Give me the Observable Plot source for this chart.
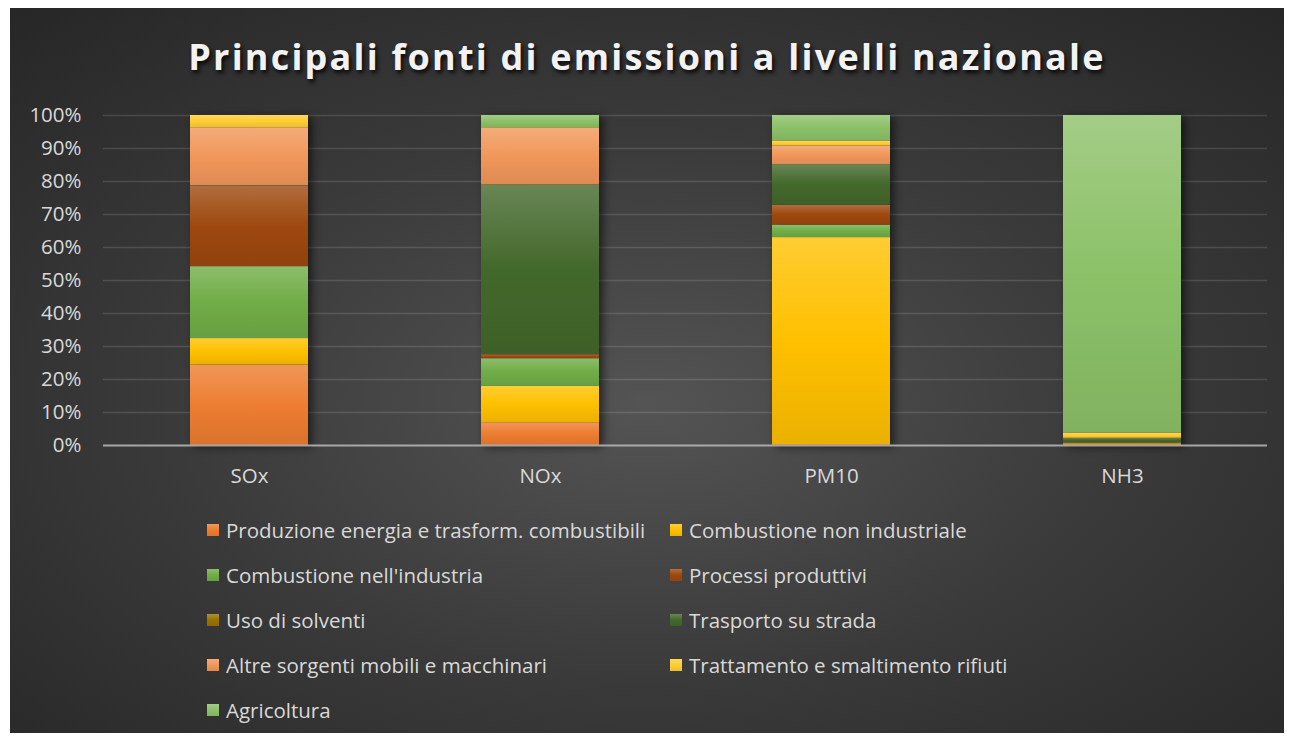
<!DOCTYPE html>
<html><head><meta charset="utf-8">
<script src="https://cdn.jsdelivr.net/npm/d3@7"></script>
<script src="https://cdn.jsdelivr.net/npm/@observablehq/plot@0.6"></script>
<style>
body{margin:0;background:#fff;}
#card{position:absolute;left:10px;top:8px;width:1274px;height:725px;background:radial-gradient(ellipse 75% 75% at 50% 55%, #545454 0%, #3a3a3a 50%, #262626 100%);font-family:"Open Sans",sans-serif;overflow:hidden;}
#title{position:absolute;left:0;width:100%;top:26px;text-align:center;color:#f2f2f2;font-weight:bold;font-size:36px;letter-spacing:2.2px;text-shadow:2px 3px 4px rgba(0,0,0,0.85);line-height:46px;}
#chart{position:absolute;left:0;top:90px;}
.leg{position:absolute;color:#d9d9d9;font-size:20.5px;height:26px;line-height:26px;display:flex;align-items:center;white-space:nowrap;}
.sw{width:12px;height:12px;margin-right:7px;flex:none;}
</style></head><body>
<div id="card"><div id="title">Principali fonti di emissioni a livelli nazionale</div><div id="chart"></div><div id="legend"></div></div>
<script>
const categories = ["SOx", "NOx", "PM10", "NH3"];
const sources = [
  "Produzione energia e trasform. combustibili",
  "Combustione non industriale",
  "Combustione nell'industria",
  "Processi produttivi",
  "Uso di solventi",
  "Trasporto su strada",
  "Altre sorgenti mobili e macchinari",
  "Trattamento e smaltimento rifiuti",
  "Agricoltura"
];
const colors = ["#ED7D31", "#FFC000", "#70AD47", "#9E480E", "#997300", "#43682B", "#F1975A", "#FFCD33", "#8CC168"];
// percentage shares per category (SOx, NOx, PM10, NH3)
const produzioneEnergia = [24.4, 6.9, 0.3, 0.1];
const combustioneNonIndustriale = [8.0, 11.0, 62.7, 0.4];
const combustioneIndustria = [21.8, 8.4, 3.8, 0.1];
const processiProduttivi = [24.3, 1.2, 6.0, 0.3];
const usoSolventi = [0, 0, 0, 0];
const trasportoStrada = [0.2, 51.5, 12.3, 1.2];
const altreSorgenti = [17.6, 17.1, 5.6, 0.1];
const trattamentoRifiuti = [3.7, 0.2, 1.6, 1.6];
const agricoltura = [0, 3.7, 7.7, 96.2];
const yTicks = [0, 10, 20, 30, 40, 50, 60, 70, 80, 90, 100];

const seriesValues = [produzioneEnergia, combustioneNonIndustriale, combustioneIndustria, processiProduttivi,
  usoSolventi, trasportoStrada, altreSorgenti, trattamentoRifiuti, agricoltura];
const table = [];
sources.forEach((s, i) => categories.forEach((c, j) => table.push({cat: c, source: s, value: seriesValues[i][j]})));

const light = c => d3.interpolateRgb(c, "#fff")(0.2);
const dark = c => d3.interpolateRgb(c, "#000")(0.08);

const plot = Plot.plot({
  width: 1274, height: 400,
  marginLeft: 93, marginRight: 17, marginTop: 17, marginBottom: 53,
  style: {background: "transparent", color: "#d9d9d9", fontFamily: "Open Sans", fontSize: "20.5px"},
  x: {domain: categories, paddingInner: 0.595, paddingOuter: 0.2975, label: null, axis: null},
  y: {domain: [0, 100], label: null, axis: null},
  color: {domain: sources, range: sources.map((_, i) => `url(#g${i})`)},
  marks: [
    Plot.gridY(yTicks, {stroke: "#fff", strokeOpacity: 0.13, strokeWidth: 1.5}),
    Plot.axisY(yTicks, {tickSize: 0, tickPadding: 22, tickFormat: d => d + "%", label: null, fill: "#d9d9d9"}),
    Plot.axisX({tickSize: 0, tickPadding: 23, label: null, fill: "#d9d9d9"}),
    Plot.barY(table, {x: "cat", y: "value", fill: "source"}),
    Plot.ruleY([0], {stroke: "#b5b5b5", strokeWidth: 2, strokeOpacity: 0.85})
  ]
});

const svg = d3.select(plot);
const defs = svg.insert("defs", ":first-child");
colors.forEach((c, i) => {
  const g = defs.append("linearGradient").attr("id", "g" + i).attr("x1", 0).attr("y1", 0).attr("x2", 0).attr("y2", 1);
  g.append("stop").attr("offset", "0%").attr("stop-color", light(c));
  g.append("stop").attr("offset", "50%").attr("stop-color", c);
  g.append("stop").attr("offset", "100%").attr("stop-color", dark(c));
});
svg.selectAll("g[aria-label='bar']").style("filter", "drop-shadow(4px 2px 4px rgba(0,0,0,0.55))");
document.getElementById("chart").appendChild(plot);

const legend = document.getElementById("legend");
const rowsTop = [509, 554, 599, 644, 689];
const colsLeft = [197, 660];
sources.forEach((s, i) => {
  const d = document.createElement("div");
  d.className = "leg";
  d.style.top = rowsTop[Math.floor(i / 2)] + "px";
  d.style.left = colsLeft[i % 2] + "px";
  const sw = document.createElement("div");
  sw.className = "sw";
  sw.style.background = `linear-gradient(${light(colors[i])}, ${colors[i]}, ${dark(colors[i])})`;
  d.appendChild(sw);
  d.appendChild(document.createTextNode(s));
  legend.appendChild(d);
});
</script>
</body></html>
